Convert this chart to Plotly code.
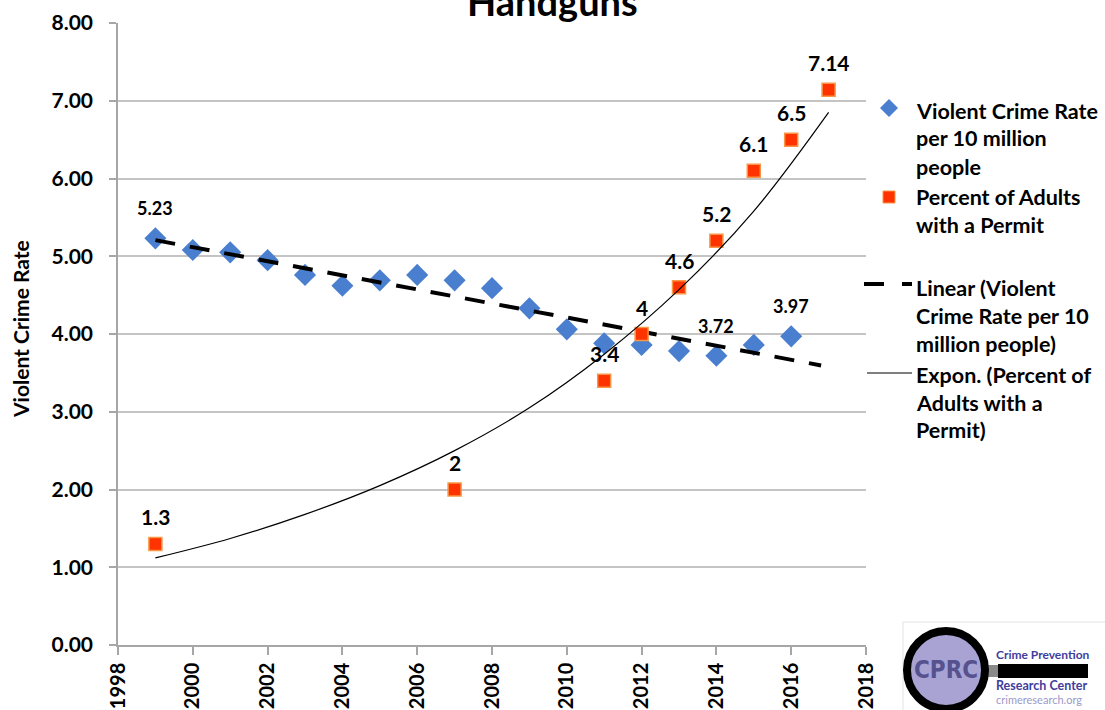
import numpy as np
import plotly.graph_objects as go

# ---------------- data ----------------
years_crime = list(range(1999, 2017))
violent_crime_rate = [5.23, 5.08, 5.05, 4.95, 4.76, 4.62, 4.69, 4.76, 4.69, 4.59,
                      4.33, 4.06, 3.88, 3.86, 3.78, 3.72, 3.86, 3.97]
crime_label_years = [1999, 2014, 2016]

years_permit = [1999, 2007, 2011, 2012, 2013, 2014, 2015, 2016, 2017]
permit_pct = [1.3, 2, 3.4, 4, 4.6, 5.2, 6.1, 6.5, 7.14]

# Excel "Expon." trendline as drawn in the picture
expon_years = [1999, 2001, 2003, 2005, 2007, 2009, 2011, 2013, 2015, 2017]
expon_trend = [1.12, 1.37, 1.68, 2.05, 2.50, 3.05, 3.74, 4.57, 5.58, 6.85]

x_ticks = list(range(1998, 2019, 2))
y_ticks = list(range(0, 9))

legend_lines = {
    "crime": ["Violent Crime Rate", "per 10 million", "people"],
    "permit": ["Percent of Adults", "with a Permit"],
    "linear": ["Linear (Violent", "Crime Rate per 10", "million people)"],
    "expon": ["Expon. (Percent of", "Adults with a", "Permit)"],
}

# ---------------- layout helpers ----------------
W, H = 1105, 710
L, R, T, B = 118, 866, 23, 645


def px(x):
    return (x - L) / (R - L)


def py(y):
    return (B - y) / (B - T)


FONT = "Lato, 'DejaVu Sans', sans-serif"
BLUE = "#4a7fd0"
RED = "#ff3300"
GRID = "#c4c4c4"

# linear trendline fitted to the crime-rate series (as Excel does)
slope, intercept = np.polyfit(years_crime, violent_crime_rate, 1)
lin_x = [1999, 2016.8]
lin_y = [slope * x + intercept for x in lin_x]

fig = go.Figure()

fig.add_trace(go.Scatter(
    x=years_crime, y=violent_crime_rate, mode="markers",
    marker=dict(symbol="diamond", size=17, color=BLUE, line=dict(width=0)),
    name="Violent Crime Rate per 10 million people", showlegend=False))

fig.add_trace(go.Scatter(
    x=lin_x, y=lin_y, mode="lines",
    line=dict(color="black", width=4, dash="20px,15px"),
    name="Linear", showlegend=False))

fig.add_trace(go.Scatter(
    x=years_permit, y=permit_pct, mode="markers",
    marker=dict(symbol="square", size=13, color=RED, line=dict(width=1.5, color="#f79646")),
    name="Percent of Adults with a Permit", showlegend=False))

fig.add_trace(go.Scatter(
    x=expon_years, y=expon_trend, mode="lines", line_shape="spline",
    line=dict(color="black", width=1.2),
    name="Expon.", showlegend=False))

annotations = []
# data labels
for xv, yv in zip(years_permit, permit_pct):
    annotations.append(dict(x=xv, y=yv, xref="x", yref="y", text=f"{yv:g}",
                            showarrow=False, yshift=27,
                            font=dict(family=FONT, size=21, color="black", weight="bold")))
for xv, yv in zip(years_crime, violent_crime_rate):
    if xv in crime_label_years:
        annotations.append(dict(x=xv, y=yv, xref="x", yref="y", text=f"{yv:.2f}",
                                showarrow=False, yshift=30,
                                font=dict(family=FONT, size=18, color="black", weight="bold")))

# title (partly cut off at the top, as in the reference)
annotations.append(dict(x=px(552), y=py(26), xref="paper", yref="paper",
                        xanchor="center", yanchor="bottom", showarrow=False,
                        text="Handguns",
                        font=dict(family=FONT, size=38, color="black", weight="bold")))

# y-axis title
annotations.append(dict(x=px(20), y=py(329), xref="paper", yref="paper",
                        xanchor="center", yanchor="middle", showarrow=False,
                        textangle=-90, text="Violent Crime Rate",
                        font=dict(family=FONT, size=21, color="black", weight="bold")))

# manual legend text
legend_y = {
    "crime": [111, 138, 167],
    "permit": [197, 225],
    "linear": [288, 316, 344],
    "expon": [375, 403, 430],
}
for key, lines in legend_lines.items():
    for txt, yy in zip(lines, legend_y[key]):
        annotations.append(dict(x=px(914), y=py(yy), xref="paper", yref="paper",
                                xanchor="left", yanchor="middle", showarrow=False,
                                text=txt,
                                font=dict(family=FONT, size=21.5, color="black", weight="bold")))

shapes = []
# legend symbols
cx, cy, r = 889, 108, 9
shapes.append(dict(type="path", xref="paper", yref="paper",
                   path=f"M {px(cx)} {py(cy - r)} L {px(cx + r)} {py(cy)} L {px(cx)} {py(cy + r)} L {px(cx - r)} {py(cy)} Z",
                   fillcolor=BLUE, line=dict(width=0)))
shapes.append(dict(type="rect", xref="paper", yref="paper",
                   x0=px(883), x1=px(895), y0=py(203), y1=py(191),
                   fillcolor=RED, line=dict(width=1, color="#f79646")))
shapes.append(dict(type="line", xref="paper", yref="paper",
                   x0=px(864), x1=px(884), y0=py(284), y1=py(284),
                   line=dict(color="black", width=4)))
shapes.append(dict(type="line", xref="paper", yref="paper",
                   x0=px(902), x1=px(912), y0=py(284), y1=py(284),
                   line=dict(color="black", width=4)))
shapes.append(dict(type="line", xref="paper", yref="paper",
                   x0=px(867), x1=px(912), y0=py(373), y1=py(373),
                   line=dict(color="black", width=1.2)))

# logo (drawn with shapes + text)
shapes.append(dict(type="rect", xref="paper", yref="paper",
                   x0=px(903), x1=px(1110), y0=py(622), y1=py(715),
                   fillcolor="white", line=dict(color="#e3e3e3", width=1)))
shapes.append(dict(type="rect", xref="paper", yref="paper",
                   x0=px(980), x1=px(1002), y0=py(677), y1=py(665),
                   fillcolor="#8a8a8a", line=dict(width=0)))
shapes.append(dict(type="rect", xref="paper", yref="paper",
                   x0=px(998), x1=px(1088), y0=py(678), y1=py(664),
                   fillcolor="black", line=dict(width=0)))
shapes.append(dict(type="circle", xref="paper", yref="paper",
                   x0=px(907), x1=px(985), y0=py(709), y1=py(631),
                   fillcolor="#a9a3d3", line=dict(color="black", width=8)))
annotations.append(dict(x=px(946), y=py(670), xref="paper", yref="paper",
                        xanchor="center", yanchor="middle", showarrow=False,
                        text="CPRC",
                        font=dict(family="'Liberation Sans Narrow', 'DejaVu Sans Condensed', sans-serif",
                                  size=24, color="#55528f", weight="bold")))
annotations.append(dict(x=px(994), y=py(654), xref="paper", yref="paper",
                        xanchor="left", yanchor="middle", showarrow=False,
                        text="Crime Prevention",
                        font=dict(family=FONT, size=12, color="#3f3d9c", weight="bold")))
annotations.append(dict(x=px(994), y=py(686), xref="paper", yref="paper",
                        xanchor="left", yanchor="middle", showarrow=False,
                        text="Research Center",
                        font=dict(family=FONT, size=12.5, color="#3f3d9c", weight="bold")))
annotations.append(dict(x=px(994), y=py(699), xref="paper", yref="paper",
                        xanchor="left", yanchor="middle", showarrow=False,
                        text="crimeresearch.org",
                        font=dict(family=FONT, size=11, color="#9c99c9")))

fig.update_layout(
    width=W, height=H,
    margin=dict(l=L, r=W - R, t=T, b=H - B, autoexpand=False),
    paper_bgcolor="white", plot_bgcolor="white",
    showlegend=False,
    annotations=annotations, shapes=shapes,
    font=dict(family=FONT, color="black"),
)

fig.update_xaxes(
    range=[1998, 2018], tickvals=x_ticks, ticktext=[str(v) for v in x_ticks],
    tickangle=-90, ticks="outside", ticklen=8, tickwidth=1.5, tickcolor="#a6a6a6",
    showline=True, linecolor="#a6a6a6", linewidth=1.5, showgrid=False, zeroline=False,
    tickfont=dict(family=FONT, size=20, color="black", weight="bold"),
)
fig.update_yaxes(
    range=[0, 8], tickvals=y_ticks, tickformat=".2f",
    ticks="outside", ticklen=7, tickwidth=1.5, tickcolor="#a6a6a6",
    showline=True, linecolor="#a6a6a6", linewidth=1.5,
    showgrid=True, gridcolor=GRID, gridwidth=2, zeroline=False,
    ticklabelstandoff=12,
    tickfont=dict(family=FONT, size=21, color="black", weight="bold"),
)

fig.write_html("out.html",
               config={"displayModeBar": False},
               post_script="document.body.style.margin='0';document.body.style.overflow='hidden';")
